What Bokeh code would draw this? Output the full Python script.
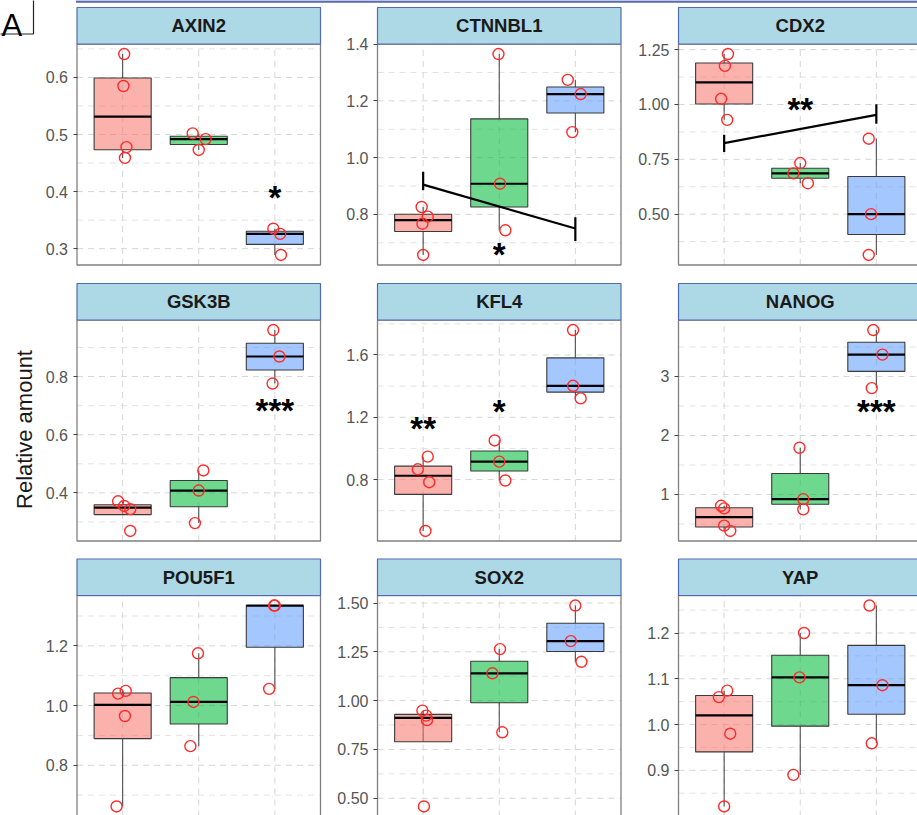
import numpy as np
from bokeh.plotting import figure
from bokeh.models import Range1d, LinearAxis, FixedTicker
from bokeh.core.properties import value
from bokeh.embed import file_html
from bokeh.resources import INLINE

# ---------------- data ----------------
genes = ["AXIN2", "CTNNBL1", "CDX2", "GSK3B", "KFL4", "NANOG", "POU5F1", "SOX2", "YAP"]
groups = [1, 2, 3]
group_colors = ["#F8766D", "#00BA38", "#619CFF"]

axin2 = [[0.641, 0.585, 0.478, 0.459], [0.502, 0.492, 0.473], [0.335, 0.326, 0.289]]
ctnnbl1 = [[0.826, 0.792, 0.767, 0.657], [1.365, 0.908, 0.744], [1.274, 1.224, 1.090]]
cdx2 = [[1.230, 1.176, 1.026, 0.930], [0.733, 0.686, 0.641], [0.844, 0.500, 0.314]]
gsk3b = [[0.371, 0.355, 0.344, 0.269], [0.477, 0.408, 0.296], [0.960, 0.869, 0.776]]
kfl4 = [[0.866, 0.947, 0.783, 0.470], [1.051, 0.915, 0.794], [1.760, 1.402, 1.321]]
nanog = [[0.809, 0.764, 0.472, 0.382], [1.792, 0.921, 0.747], [3.787, 3.371, 2.803]]
pou5f1 = [[1.040, 1.049, 0.965, 0.662], [1.175, 1.012, 0.864], [1.335, 1.335, 1.056]]
sox2 = [[0.949, 0.923, 0.900, 0.458], [1.264, 1.140, 0.838], [1.487, 1.305, 1.199]]
yap = [[1.060, 1.074, 0.980, 0.821], [1.200, 1.103, 0.890], [1.260, 1.086, 0.959]]

# horizontal jitter of each point (category units)
axin2_jit = [[0.02, 0.01, 0.05, 0.03], [-0.08, 0.09, 0.0], [-0.02, 0.07, 0.08]]
ctnnbl1_jit = [[-0.02, 0.06, -0.01, 0.0], [-0.01, 0.01, 0.08], [-0.10, 0.07, -0.04]]
cdx2_jit = [[0.05, 0.01, -0.04, 0.04], [0.0, -0.09, 0.10], [-0.10, -0.07, -0.10]]
gsk3b_jit = [[-0.06, 0.02, 0.10, 0.10], [0.06, 0.0, -0.05], [-0.02, 0.06, -0.03]]
kfl4_jit = [[-0.07, 0.06, 0.08, 0.03], [-0.06, 0.0, 0.08], [-0.03, -0.03, 0.07]]
nanog_jit = [[-0.04, 0.0, 0.0, 0.08], [-0.01, 0.04, 0.04], [-0.04, 0.08, -0.06]]
pou5f1_jit = [[-0.06, 0.04, 0.03, -0.08], [-0.01, -0.07, -0.11], [-0.01, 0.0, -0.075]]
sox2_jit = [[-0.01, 0.04, 0.05, 0.01], [0.01, -0.09, 0.04], [0.0, -0.06, 0.08]]
yap_jit = [[-0.07, 0.04, 0.08, 0.0], [0.05, -0.01, -0.09], [-0.09, 0.08, -0.06]]

# y tick values and labels
axin2_ticks, axin2_labels = [0.3, 0.4, 0.5, 0.6], ["0.3", "0.4", "0.5", "0.6"]
ctnnbl1_ticks, ctnnbl1_labels = [0.8, 1.0, 1.2, 1.4], ["0.8", "1.0", "1.2", "1.4"]
cdx2_ticks, cdx2_labels = [0.5, 0.75, 1.0, 1.25], ["0.50", "0.75", "1.00", "1.25"]
gsk3b_ticks, gsk3b_labels = [0.4, 0.6, 0.8], ["0.4", "0.6", "0.8"]
kfl4_ticks, kfl4_labels = [0.8, 1.2, 1.6], ["0.8", "1.2", "1.6"]
nanog_ticks, nanog_labels = [1, 2, 3], ["1", "2", "3"]
pou5f1_ticks, pou5f1_labels = [0.8, 1.0, 1.2], ["0.8", "1.0", "1.2"]
sox2_ticks, sox2_labels = [0.5, 0.75, 1.0, 1.25, 1.5], ["0.50", "0.75", "1.00", "1.25", "1.50"]
yap_ticks, yap_labels = [0.9, 1.0, 1.1, 1.2], ["0.9", "1.0", "1.1", "1.2"]

# significance marks
sig_gene = ["AXIN2", "CTNNBL1", "CDX2", "GSK3B", "KFL4", "KFL4", "NANOG"]
sig_x = [3, 2, 2, 3, 1, 2, 3]
sig_y = [0.398, 0.677, 1.0, 0.702, 1.157, 1.27, 2.483]
sig_text = ["*", "*", "**", "***", "**", "*", "***"]

# capped trend lines
line_gene = ["CTNNBL1", "CDX2"]
line_x = [1, 3]
line_y = [[0.905, 0.750], [0.824, 0.953]]
cap_lo = [[0.885, 0.706], [0.783, 0.912]]
cap_hi = [[0.950, 0.790], [0.862, 1.001]]

y_title = "Relative amount"
panel_letter = "A"

data = dict(zip(genes, [axin2, ctnnbl1, cdx2, gsk3b, kfl4, nanog, pou5f1, sox2, yap]))
jits = dict(zip(genes, [axin2_jit, ctnnbl1_jit, cdx2_jit, gsk3b_jit, kfl4_jit,
                        nanog_jit, pou5f1_jit, sox2_jit, yap_jit]))
ticks = dict(zip(genes, [axin2_ticks, ctnnbl1_ticks, cdx2_ticks, gsk3b_ticks, kfl4_ticks,
                         nanog_ticks, pou5f1_ticks, sox2_ticks, yap_ticks]))
labels = dict(zip(genes, [axin2_labels, ctnnbl1_labels, cdx2_labels, gsk3b_labels, kfl4_labels,
                          nanog_labels, pou5f1_labels, sox2_labels, yap_labels]))

# ---------------- layout (reference pixel space 917 x 815) ----------------
REF_W, REF_H = 917.0, 815.0
col_left = [76.5, 377.0, 678.0]
panel_w = 243.5
strip_top = [7.0, 283.0, 558.5]
strip_h = 36.5
plot_h = 221.0
XLO, XHI = 0.4, 3.6
BOX_W = 0.75

FONT_NAME = "Liberation Sans"
FONT = value(FONT_NAME)

p = figure(width=917, height=815, x_range=Range1d(0, REF_W), y_range=Range1d(REF_H, 0),
           x_axis_location=None, y_axis_location=None, toolbar_location=None,
           output_backend="svg", min_border=0, outline_line_color=None,
           background_fill_color="white", border_fill_color="white")
p.grid.visible = False


def qstats(v):
    a = np.sort(np.array(v, float))
    q1, med, q3 = np.percentile(a, [25, 50, 75])
    iqr = q3 - q1
    lo = a[a >= q1 - 1.5 * iqr].min()
    hi = a[a <= q3 + 1.5 * iqr].max()
    return q1, med, q3, lo, hi


limits = {}
xr, yr = {}, {}
for k, g in enumerate(genes):
    r, c = divmod(k, 3)
    L = col_left[c]
    T = strip_top[r] + strip_h
    allv = [v for grp in data[g] for v in grp]
    vmin, vmax = min(allv), max(allv)
    pad = 0.05 * (vmax - vmin)
    lo, hi = vmin - pad, vmax + pad
    limits[g] = (lo, hi)
    xs = (XHI - XLO) / panel_w
    xr[f"x{k}"] = Range1d(XLO - L * xs, XLO + (REF_W - L) * xs)
    ys = (hi - lo) / plot_h
    yr[f"y{k}"] = Range1d(hi - (REF_H - T) * ys, hi + T * ys)
p.extra_x_ranges = xr
p.extra_y_ranges = yr

for k, g in enumerate(genes):
    r, c = divmod(k, 3)
    L = col_left[c]
    T = strip_top[r] + strip_h
    lo, hi = limits[g]
    kw = dict(x_range_name=f"x{k}", y_range_name=f"y{k}")

    # grid
    tk = ticks[g]
    step = tk[1] - tk[0]
    minors = [tk[0] - step / 2 + i * step for i in range(len(tk) + 1)]
    minors = [m for m in minors if lo <= m <= hi]
    majors = [t for t in tk if lo <= t <= hi]
    p.segment(x0=[XLO] * len(minors), x1=[XHI] * len(minors), y0=minors, y1=minors,
              line_color="#e3e3e3", line_width=1, line_dash="6 5", **kw)
    p.segment(x0=[XLO] * len(majors), x1=[XHI] * len(majors), y0=majors, y1=majors,
              line_color="#d6d6d6", line_width=1, line_dash="6 5", **kw)
    p.segment(x0=groups, x1=groups, y0=[lo] * 3, y1=[hi] * 3,
              line_color="#d6d6d6", line_width=1, line_dash="6 5", **kw)

    # boxes
    for gi, (xg, col) in enumerate(zip(groups, group_colors)):
        q1, med, q3, wlo, whi = qstats(data[g][gi])
        p.segment(x0=[xg, xg], x1=[xg, xg], y0=[q3, q1], y1=[whi, wlo],
                  line_color="#4d4d4d", line_width=1.1, **kw)
        p.quad(left=[xg - BOX_W / 2], right=[xg + BOX_W / 2], bottom=[q1], top=[q3],
               fill_color=col, fill_alpha=0.57, line_color="#3a3a3a", line_width=1.1, **kw)
        p.segment(x0=[xg - BOX_W / 2], x1=[xg + BOX_W / 2], y0=[med], y1=[med],
                  line_color="black", line_width=2.2, **kw)

    # points
    for gi, xg in enumerate(groups):
        vals = data[g][gi]
        xs_ = [xg + j for j in jits[g][gi]]
        p.scatter(x=xs_, y=vals, marker="circle", size=11, fill_color=None,
                  line_color="#ff2a2a", line_width=1.4, **kw)

    # capped lines
    if g in line_gene:
        li = line_gene.index(g)
        p.line(x=line_x, y=line_y[li], line_color="black", line_width=2.2, **kw)
        p.segment(x0=line_x, x1=line_x, y0=cap_lo[li], y1=cap_hi[li],
                  line_color="black", line_width=2.2, **kw)

    # significance
    idx = [i for i, sg in enumerate(sig_gene) if sg == g]
    if idx:
        p.text(x=[sig_x[i] for i in idx], y=[sig_y[i] for i in idx],
               text=[sig_text[i] for i in idx], text_align="center",
               text_baseline="alphabetic", y_offset=5, text_font=FONT,
               text_font_style="bold", text_font_size="33px", text_color="black", **kw)

    # panel border
    p.quad(left=[XLO], right=[XHI], bottom=[lo], top=[hi], fill_color=None,
           line_color="#808080", line_width=1.3, **kw)

    # strip
    st = strip_top[r]
    p.quad(left=[L], right=[L + panel_w], top=[st], bottom=[st + strip_h],
           fill_color="#ADD8E6", line_color="#5468b4", line_width=1.2)
    p.text(x=[L + panel_w / 2], y=[st + strip_h / 2], text=[g], text_align="center",
           text_baseline="middle", text_font=FONT, text_font_style="bold",
           text_font_size="18.5px", text_color="#1a1a1a")

    # y axis
    ax = LinearAxis(y_range_name=f"y{k}", fixed_location=L, bounds=(lo, hi),
                    ticker=FixedTicker(ticks=tk, minor_ticks=[]),
                    major_label_overrides={t: lab for t, lab in zip(tk, labels[g])},
                    axis_line_color=None, major_tick_in=0, major_tick_out=4,
                    major_tick_line_color="#444444", major_tick_line_width=1,
                    minor_tick_in=0, minor_tick_out=0, major_label_standoff=5,
                    major_label_text_font=FONT_NAME, major_label_text_font_size="16px",
                    major_label_text_color="#555555")
    p.add_layout(ax, "left")

# top band (edge of the figure part above)
p.segment(x0=[75.5], x1=[REF_W + 5], y0=[1.0], y1=[1.0], line_color="#5a6aae", line_width=2.6)

# panel letter box
p.quad(left=[-3], right=[33], top=[-3], bottom=[33.5], fill_color="white",
       line_color="#222222", line_width=1.2)
p.text(x=[1], y=[25], text=[panel_letter], text_align="left", text_baseline="alphabetic",
       text_font=FONT, text_font_size="31px", text_color="black")

# y axis title
p.text(x=[24], y=[429], text=[y_title], angle=np.pi / 2, text_align="center",
       text_baseline="middle", text_font=FONT, text_font_size="22px", text_color="#1a1a1a")

open("out.html", "w").write(file_html(p, INLINE))
